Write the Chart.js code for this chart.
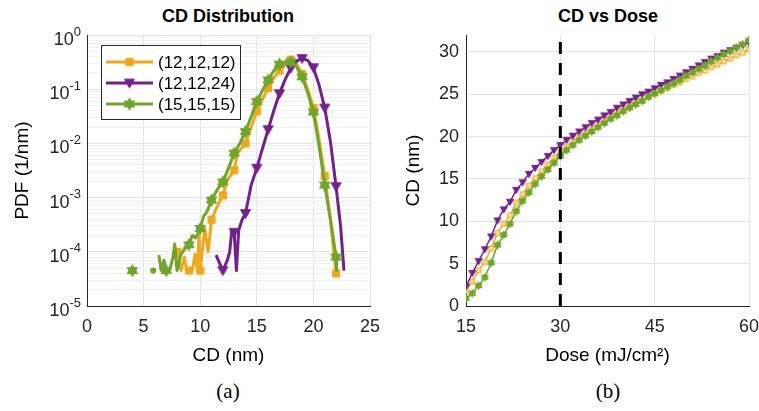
<!DOCTYPE html>
<html>
<head>
<meta charset="utf-8">
<script src="https://cdn.jsdelivr.net/npm/chart.js@4.4.1/dist/chart.umd.min.js"></script>
<style>
  body { margin:0; background:#fff; width:759px; height:411px; position:relative; overflow:hidden; font-family:"Liberation Sans", Arial, sans-serif; }
  canvas { position:absolute; top:0; }
  .ttl { position:absolute; top:6px; font-weight:bold; font-size:18px; color:#000; transform:translateX(-50%); white-space:nowrap; }
  .sub { position:absolute; top:379px; font-family:"Liberation Serif","Times New Roman",serif; font-size:21px; color:#000; transform:translateX(-50%); }
</style>
</head>
<body>
<div class="ttl" style="left:228px">CD Distribution</div>
<div class="ttl" style="left:608px">CD vs Dose</div>
<canvas id="pdfChart" width="380" height="372" style="left:0"></canvas>
<canvas id="doseChart" width="379" height="372" style="left:380px"></canvas>
<div class="sub" style="left:228px">(a)</div>
<div class="sub" style="left:608px">(b)</div>
<script>
// ---- (a) CD distribution, log PDF ----
const seriesNames = ['(12,12,12)', '(12,12,24)', '(15,15,15)'];

const cdOrange = [8.0, 8.3, 8.6, 8.8, 9.0, 9.3, 9.55, 9.75, 9.9, 10.0, 10.4, 10.7, 11.0, 11.5, 12.0, 12.4, 13.0, 13.3, 14.0, 14.5, 15.0, 15.5, 16.0, 16.5, 17.0, 17.5, 18.0, 18.5, 19.0, 19.5, 20.0, 20.5, 21.0, 21.5, 22.0];
const pdfOrange = [1.0e-4, 4.5e-5, 8e-5, 4.5e-5, 4.5e-5, 4.5e-5, 9e-5, 4.5e-5, 2.2e-4, 4.5e-5, 2.7e-4, 1.0e-4, 3.9e-4, 6.8e-4, 1.1e-3, 2.1e-3, 3.2e-3, 6.6e-3, 1.0e-2, 2.0e-2, 3.9e-2, 6.5e-2, 0.105, 0.16, 0.22, 0.29, 0.35, 0.30, 0.19, 0.10, 0.045, 0.012, 2.5e-3, 4e-4, 4.0e-5];

const cdPurple = [11.4, 12.0, 12.4, 12.6, 12.8, 13.0, 13.2, 13.4, 13.7, 14.0, 14.5, 15.0, 15.5, 16.0, 16.5, 17.0, 17.5, 18.0, 18.5, 19.0, 19.5, 20.0, 20.5, 21.0, 21.5, 22.0, 22.4, 22.7];
const pdfPurple = [8.7e-5, 4.5e-5, 7e-5, 1.0e-4, 2.5e-4, 2.3e-4, 4.5e-5, 2.5e-4, 3.9e-4, 5.1e-4, 1.7e-3, 3.5e-3, 8e-3, 1.8e-2, 4e-2, 8.3e-2, 0.15, 0.245, 0.33, 0.37, 0.34, 0.25, 0.12, 0.045, 0.011, 1.6e-3, 3e-4, 4.5e-5];

const cdGreen = [4.0, 4.5, 5.85, 6.1, 6.35, 6.55, 6.8, 7.0, 7.3, 7.6, 7.75, 7.95, 8.3, 8.6, 9.0, 9.3, 9.6, 10.0, 10.3, 10.6, 11.0, 11.5, 12.0, 12.5, 13.0, 13.5, 14.0, 14.5, 15.0, 15.5, 16.0, 16.5, 17.0, 17.5, 18.0, 18.5, 19.0, 19.5, 20.0, 20.5, 21.0, 21.5, 22.0, 22.05];
const pdfGreen = [4.5e-5, null, 4.5e-5, null, 8.7e-5, 4.5e-5, 7e-5, 4.5e-5, 4.5e-5, 8e-5, 1.4e-4, 4.5e-5, 9e-5, 1.1e-4, 1.35e-4, 2.0e-4, 1.8e-4, 2.7e-4, 4.5e-4, 5.5e-4, 9e-4, 1.4e-3, 1.95e-3, 3.5e-3, 6.6e-3, 1.0e-2, 1.65e-2, 3.1e-2, 5.9e-2, 0.095, 0.148, 0.22, 0.29, 0.32, 0.32, 0.26, 0.17, 0.085, 0.038, 0.009, 1.7e-3, 4e-4, 8e-5, 4.5e-5];

const cdTicks = [0, 5, 10, 15, 20, 25];
const pdfDecades = [-5, -4, -3, -2, -1, 0];

// ---- (b) CD vs dose ----
const doses = [15, 16, 17, 18, 19, 20, 21, 22, 23, 24, 25, 26, 27, 28, 29, 30, 31, 32, 33, 34, 35, 36, 37, 38, 39, 40, 41, 42, 43, 44, 45, 46, 47, 48, 49, 50, 51, 52, 53, 54, 55, 56, 57, 58, 59, 60];
const cdDoseOrange = [1.8, 2.9, 4.2, 5.2, 6.8, 8.6, 9.7, 10.7, 12.2, 13.2, 14.2, 15.1, 15.9, 16.7, 17.5, 18.2, 18.8, 19.4, 19.9, 20.4, 20.9, 21.4, 21.9, 22.3, 22.7, 23.2, 23.6, 24.0, 24.3, 24.7, 25.0, 25.4, 25.7, 26.1, 26.4, 26.8, 27.1, 27.5, 27.8, 28.2, 28.5, 28.9, 29.2, 29.6, 29.9, 30.3];
const cdDosePurple = [2.3, 3.9, 5.3, 6.7, 8.2, 10.1, 11.4, 12.3, 13.7, 14.6, 15.6, 16.3, 17.0, 17.7, 18.4, 19.0, 19.6, 20.1, 20.6, 21.1, 21.6, 22.0, 22.5, 22.9, 23.4, 23.8, 24.2, 24.6, 25.0, 25.3, 25.7, 26.1, 26.4, 26.8, 27.2, 27.6, 28.0, 28.4, 28.8, 29.2, 29.5, 29.9, 30.2, 30.5, 30.8, 31.1];
const cdDoseGreen = [0.9, 1.5, 2.4, 3.4, 5.1, 7.2, 8.4, 9.7, 11.2, 12.4, 13.4, 14.4, 15.3, 16.1, 16.9, 17.7, 18.4, 19.0, 19.6, 20.1, 20.6, 21.1, 21.6, 22.1, 22.5, 23.0, 23.4, 23.8, 24.2, 24.7, 25.1, 25.5, 25.9, 26.3, 26.7, 27.2, 27.6, 28.0, 28.4, 28.9, 29.3, 29.7, 30.1, 30.5, 30.9, 31.4];
const nominalDose = 30;
const cdRange = [0, 32];

const ORANGE = '#EEA81E', PURPLE = '#72218A', GREEN = '#70A52C';
const FONT = '"Liberation Sans", Arial, sans-serif';
const AXIS = '#262626', GRID = '#e3e3e3', GRID_MINOR = '#f0f0f0';

Chart.defaults.font.family = FONT;
Chart.defaults.color = AXIS;
Chart.defaults.animation = false;

// marker glyphs drawn once into small canvases
function makeMarker(kind, size, color, hollow) {
    const s = Math.ceil(size) + 3;
    const c = document.createElement('canvas');
    c.width = s; c.height = s;
    const g = c.getContext('2d');
    const m = s / 2, r = size / 2;
    g.fillStyle = hollow ? '#f8dc9c' : color;
    g.strokeStyle = color;
    g.lineWidth = 1;
    g.beginPath();
    if (kind === 'square') {
        g.rect(m - r * 0.82, m - r * 0.82, r * 1.64, r * 1.64);
    } else if (kind === 'down') {
        g.moveTo(m - r, m - r * 0.75); g.lineTo(m + r, m - r * 0.75); g.lineTo(m, m + r); g.closePath();
    } else {
        [-Math.PI / 2, Math.PI / 2].forEach(a0 => {
            g.moveTo(m + r * Math.cos(a0), m + r * Math.sin(a0));
            for (let j = 1; j < 3; j++) {
                const a = a0 + j * 2 * Math.PI / 3;
                g.lineTo(m + r * Math.cos(a), m + r * Math.sin(a));
            }
            g.closePath();
        });
    }
    g.fill();
    g.stroke();
    return c;
}

const bigMarkers = [makeMarker('square', 9, ORANGE), makeMarker('down', 10, PURPLE), makeMarker('hex', 12, GREEN)];
const smallMarkers = [makeMarker('square', 6, ORANGE, true), makeMarker('down', 7, PURPLE), makeMarker('hex', 8, GREEN)];

function xy(xs, ys) { return xs.map((x, i) => ({ x: x, y: ys[i] })); }

function isolated(ctx) {
    const d = ctx.dataset.data, i = ctx.dataIndex;
    return (i === 0 || d[i - 1].y == null) && (i === d.length - 1 || d[i + 1].y == null);
}

// keep the plot box fixed: no extra room for overhanging tick labels
function fixHeight(h) {
    return s => { s.height = h; s.paddingLeft = 0; s.paddingRight = 0; };
}

function pdfDataset(i, xs, ys, order) {
    const color = [ORANGE, PURPLE, GREEN][i];
    return {
        label: seriesNames[i],
        data: xy(xs, ys),
        borderColor: color,
        backgroundColor: color,
        borderWidth: 3,
        borderJoinStyle: 'round',
        order: order,
        pointStyle: ctx => (ctx.raw && Number.isInteger(ctx.raw.x)) ? bigMarkers[i] : 'circle',
        pointRadius: ctx => {
            if (!ctx.raw || ctx.raw.y == null) return 0;
            if (Number.isInteger(ctx.raw.x)) return 4;
            return isolated(ctx) ? 1.6 : 0;
        }
    };
}

const logTicks = [];
pdfDecades.forEach(e => {
    for (let k = 1; k <= 9; k++) {
        const v = k * Math.pow(10, e);
        if (v <= 1.0000001) logTicks.push(v);
    }
});

const isDecade = v => Math.abs(Math.log10(v) - Math.round(Math.log10(v))) < 1e-6;

// 10^n labels with a raised exponent
const powerLabels = {
    id: 'powerLabels',
    afterDraw(chart) {
        const y = chart.scales.y, ctx = chart.ctx;
        const right = chart.chartArea.left - 6;
        ctx.save();
        ctx.fillStyle = AXIS;
        ctx.textAlign = 'right';
        ctx.textBaseline = 'middle';
        pdfDecades.forEach(e => {
            const py = y.getPixelForValue(Math.pow(10, e));
            const expText = String(e);
            ctx.font = '13px ' + FONT;
            const ew = ctx.measureText(expText).width;
            ctx.fillText(expText, right, py - 3);
            ctx.font = '18px ' + FONT;
            ctx.fillText('10', right - ew, py + 5);
        });
        ctx.restore();
    }
};

// MATLAB-style boxed legend in the upper left of the axes
const boxLegend = {
    id: 'boxLegend',
    afterDatasetsDraw(chart) {
        const ctx = chart.ctx, a = chart.chartArea;
        const bx = a.left + 14, by = a.top + 10, bw = 139, bh = 74;
        ctx.save();
        ctx.fillStyle = '#fff';
        ctx.fillRect(bx, by, bw, bh);
        ctx.strokeStyle = AXIS;
        ctx.lineWidth = 1;
        ctx.strokeRect(bx + 0.5, by + 0.5, bw, bh);
        const colors = [ORANGE, PURPLE, GREEN];
        seriesNames.forEach((name, i) => {
            const ry = by + 17 + i * 21;
            ctx.strokeStyle = colors[i];
            ctx.lineWidth = 3;
            ctx.beginPath();
            ctx.moveTo(bx + 5, ry);
            ctx.lineTo(bx + 52, ry);
            ctx.stroke();
            const mk = bigMarkers[i];
            ctx.drawImage(mk, bx + 28.5 - mk.width / 2, ry - mk.height / 2);
            ctx.fillStyle = '#000';
            ctx.font = '17px ' + FONT;
            ctx.textAlign = 'left';
            ctx.textBaseline = 'middle';
            ctx.fillText(name, bx + 57, ry + 1);
        });
        ctx.restore();
    }
};

new Chart(document.getElementById('pdfChart'), {
    type: 'line',
    data: {
        datasets: [
            pdfDataset(0, cdOrange, pdfOrange, 2),
            pdfDataset(1, cdPurple, pdfPurple, 1),
            pdfDataset(2, cdGreen, pdfGreen, 0)
        ]
    },
    options: {
        responsive: false,
        layout: { autoPadding: false, padding: { top: 35, right: 10, left: 0, bottom: 0 } },
        plugins: { legend: { display: false }, tooltip: { enabled: false } },
        scales: {
            x: {
                type: 'linear',
                min: cdTicks[0],
                max: cdTicks[cdTicks.length - 1],
                afterBuildTicks: s => { s.ticks = cdTicks.map(v => ({ value: v })); },
                afterFit: fixHeight(66),
                ticks: { font: { size: 18 }, padding: 10, maxRotation: 0 },
                grid: { color: GRID, drawTicks: false },
                border: { color: AXIS },
                title: { display: true, text: 'CD (nm)', font: { size: 19 }, color: '#000', padding: { top: 0, bottom: 5 } }
            },
            y: {
                type: 'logarithmic',
                min: 1e-5,
                max: 1,
                afterBuildTicks: s => { s.ticks = logTicks.map(v => ({ value: v })); },
                afterFit: s => { s.width = 87; },
                ticks: { autoSkip: false, callback: () => '' },
                grid: { color: ctx => isDecade(ctx.tick.value) ? GRID : GRID_MINOR, drawTicks: false },
                border: { color: AXIS },
                title: { display: true, text: 'PDF (1/nm)', font: { size: 19 }, color: '#000', padding: { top: 11, bottom: 0 } }
            }
        }
    },
    plugins: [powerLabels, boxLegend]
});

function doseDataset(i, ys, order) {
    const color = [ORANGE, PURPLE, GREEN][i];
    return {
        label: seriesNames[i],
        data: xy(doses, ys),
        borderColor: color,
        backgroundColor: color,
        borderWidth: 1.5,
        order: order,
        pointStyle: smallMarkers[i],
        pointRadius: 3
    };
}

new Chart(document.getElementById('doseChart'), {
    type: 'line',
    data: {
        datasets: [
            doseDataset(0, cdDoseOrange, 2),
            doseDataset(1, cdDosePurple, 1),
            doseDataset(2, cdDoseGreen, 0),
            {
                label: 'nominal dose',
                data: [{ x: nominalDose, y: cdRange[0] }, { x: nominalDose, y: cdRange[1] }],
                borderColor: '#000',
                borderWidth: 3,
                borderDash: [12, 9],
                pointRadius: 0,
                order: -1
            }
        ]
    },
    options: {
        responsive: false,
        layout: { autoPadding: false, padding: { top: 35, right: 10, left: 0, bottom: 0 } },
        plugins: { legend: { display: false }, tooltip: { enabled: false } },
        scales: {
            x: {
                type: 'linear',
                min: 15,
                max: 60,
                ticks: { stepSize: 15, font: { size: 18 }, padding: 10, maxRotation: 0 },
                afterFit: fixHeight(66),
                grid: { color: GRID, drawTicks: false },
                border: { color: AXIS },
                title: { display: true, text: 'Dose (mJ/cm²)', font: { size: 19 }, color: '#000', padding: { top: 0, bottom: 5 } }
            },
            y: {
                min: cdRange[0],
                max: cdRange[1],
                ticks: { stepSize: 5, includeBounds: false, font: { size: 18 }, padding: 7 },
                afterFit: s => { s.width = 86; s.paddingTop = 0; s.paddingBottom = 0; },
                grid: { color: GRID, drawTicks: false },
                border: { color: AXIS },
                title: { display: true, text: 'CD (nm)', font: { size: 19 }, color: '#000', padding: { top: 22, bottom: 0 } }
            }
        }
    }
});
</script>
</body>
</html>
